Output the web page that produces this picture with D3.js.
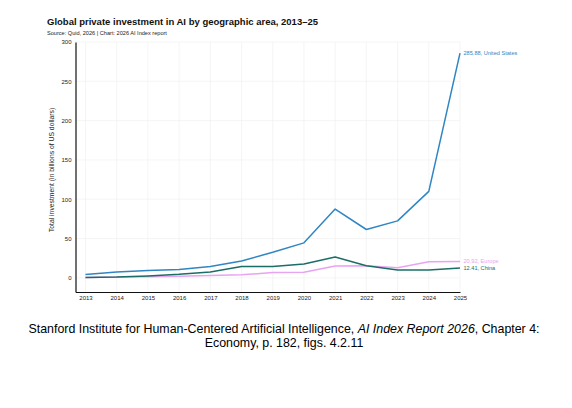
<!DOCTYPE html>
<html>
<head>
<meta charset="utf-8">
<script src="https://cdn.jsdelivr.net/npm/d3@7"></script>
<style>
  html, body { margin: 0; padding: 0; background: #fff; }
  svg { display: block; }
</style>
</head>
<body>
<svg id="chart" width="572" height="408"></svg>
<script>
const years = [2013, 2014, 2015, 2016, 2017, 2018, 2019, 2020, 2021, 2022, 2023, 2024, 2025];
const usValues = [4.2, 7.5, 9.5, 10.5, 14.5, 21.5, 32.5, 44.5, 87.5, 61.5, 72.5, 110, 285.88];
const chinaValues = [0.5, 1, 2.5, 4.5, 7.5, 14.5, 14.5, 17.5, 26.5, 15.5, 10, 10, 12.41];
const europeValues = [0.5, 1, 1.5, 2, 3, 3.8, 6.8, 7.2, 15.2, 15.5, 12.8, 20.5, 20.92];
const seriesNames = ["United States", "Europe", "China"];
const yTicks = [0, 50, 100, 150, 200, 250, 300];

const svg = d3.select("#chart");
const font = "'Liberation Sans', Arial, sans-serif";

const x = d3.scaleLinear().domain([2012.68, 2025]).range([75.5, 460]);
const y = d3.scaleLinear().domain([-18, 300]).range([292, 42]);

// Title
svg.append("text").attr("x", 47).attr("y", 25)
  .attr("font-family", font).attr("font-weight", "bold").attr("font-size", 9.5)
  .attr("fill", "#111")
  .text("Global private investment in AI by geographic area, 2013–25");
svg.append("text").attr("x", 47).attr("y", 35)
  .attr("font-family", font).attr("font-size", 5.6).attr("fill", "#222")
  .text("Source: Quid, 2026 | Chart: 2026 AI Index report");

// Grid
const grid = svg.append("g").attr("stroke", "#efefef").attr("stroke-width", 0.6);
grid.selectAll("line.h").data(yTicks).join("line").attr("class", "h")
  .attr("x1", x.range()[0]).attr("x2", x.range()[1])
  .attr("y1", d => y(d)).attr("y2", d => y(d));
grid.selectAll("line.v").data(years).join("line").attr("class", "v")
  .attr("x1", d => x(d)).attr("x2", d => x(d))
  .attr("y1", y.range()[1]).attr("y2", y.range()[0]);

// Axes
const yAxis = svg.append("g").attr("transform", `translate(${x.range()[0]},0)`)
  .call(d3.axisLeft(y).tickValues(yTicks).tickSize(0).tickPadding(4));
yAxis.select(".domain").attr("stroke", "#111").attr("stroke-width", 1.2);
yAxis.selectAll("text").attr("font-family", font).attr("font-size", 6).attr("fill", "#222");

const xAxis = svg.append("g").attr("transform", `translate(0,${y.range()[0]})`)
  .call(d3.axisBottom(x).tickValues(years).tickFormat(d3.format("d")).tickSize(0).tickPadding(4));
xAxis.select(".domain").attr("stroke", "#111").attr("stroke-width", 1.2);
xAxis.selectAll("text").attr("font-family", font).attr("font-size", 6).attr("fill", "#222");

// Y title
svg.append("text")
  .attr("transform", `translate(54,${(y.range()[0] + y.range()[1]) / 2 + 3}) rotate(-90)`)
  .attr("text-anchor", "middle")
  .attr("font-family", font).attr("font-size", 6.8).attr("fill", "#222")
  .text("Total investment (in billions of US dollars)");

// Lines
const series = [
  { name: seriesNames[1], values: europeValues, color: "#e9a3f3" },
  { name: seriesNames[2], values: chinaValues, color: "#1b6e65" },
  { name: seriesNames[0], values: usValues, color: "#2f86c3" }
];
const line = d3.line().x((d, i) => x(years[i])).y(d => y(d));
svg.append("g").selectAll("path").data(series).join("path")
  .attr("d", s => line(s.values))
  .attr("fill", "none").attr("stroke", s => s.color).attr("stroke-width", 1.5)
  .attr("stroke-linejoin", "round");

// End labels
const labelY = { "United States": 53.5, "Europe": 261, "China": 268.5 };
svg.append("g").selectAll("text").data(series).join("text")
  .attr("x", x(2025) + 3.5)
  .attr("y", s => labelY[s.name])
  .attr("dy", "0.35em")
  .attr("font-family", font).attr("font-size", 5.6)
  .attr("fill", s => s.color)
  .text(s => `${s.values[s.values.length - 1].toFixed(2)}, ${s.name}`);

// Caption
const cap = svg.append("g").attr("font-family", "Arial, 'Liberation Sans', sans-serif")
  .attr("font-size", 12.4).attr("fill", "#000").attr("text-anchor", "middle");
const l1 = cap.append("text").attr("x", 284).attr("y", 332.5);
l1.append("tspan").text("Stanford Institute for Human-Centered Artificial Intelligence, ");
l1.append("tspan").attr("font-style", "italic").text("AI Index Report 2026");
l1.append("tspan").text(", Chapter 4:");
cap.append("text").attr("x", 284).attr("y", 346.5).text("Economy, p. 182, figs. 4.2.11");
</script>
</body>
</html>
